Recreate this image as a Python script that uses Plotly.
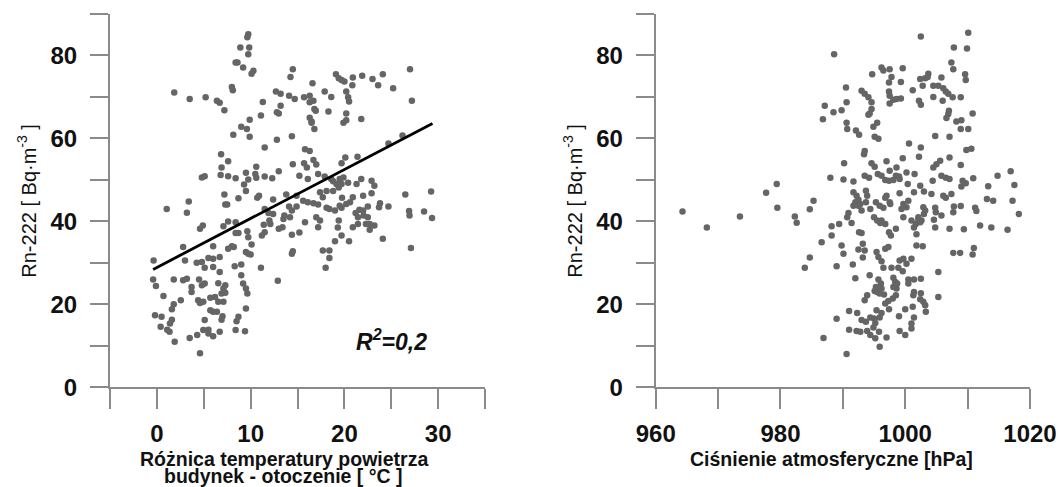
import plotly.graph_objects as go

# ---------------- data ----------------
temp_diff = [8.9, 8.4, 8.6, 9.2, 1.85, 3.5, 5.2, 6.4, 6.7, 7.2, 8.0, 8.1,
    9.75, 9.65, 9.85, 9.75, 10.3, 10.1, 14.5, 14.25, 16.6, 19.1, 19.4, 19.7, 20.0, 20.9, 20.85, 21.9, 23.0, 23.6,
    24.1, 25.2, 27.0, 27.2, 17.9, 18.6, 20.2, 20.4, 20.5, 12.7, 13.2, 14.1, 14.7, 15.7, 16.3, 16.3, 16.7, 16.8,
    16.95, 11.3, 13.2, 12.8, 13.0, 18.3, 20.2, 11.1, 9.9, 16.3, 16.5, 19.9, 20.2, 21.8,
    9.0, 9.6, 9.9, 8.15, 16.5, 16.8, 12.8, 14.4, 11.5, 6.85, 15.8, 16.3, 7.6, 6.9, 10.6, 14.5, 15.7, 16.7, 16.0,
    17.0, 4.8, 5.1, 6.8, 7.6, 8.4, 9.5, 9.75, 10.5, 10.6, 11.5, 12.3, 13.0, 15.2, 16.1, 17.2, 9.3, 9.5, 7.2, 7.3,
    7.5, 8.7, 10.9, 10.7, 12.4, 13.8, 14.9, 14.1, 14.9, 15.6, 16.1, 16.7, 17.2, 1.05, 3.4, 3.2, 11.5, 11.9, 12.4,
    13.6, 14.2, 14.4, 12.0, 12.1, 13.5, 15.8, 17.0, 17.2, 7.6, 8.4, 4.9, 4.6, 7.1, 8.7, 9.65, 9.75, 8.4, 11.4,
    11.5, 11.2, 13.0, 13.4, 14.4, 15.2, 2.8, 6.0, 7.6, 8.0, 8.2, 10.1, 9.5, 9.75, 10.0, -0.35, 3.0, 4.25, 4.8,
    5.5, 6.0, 6.7, 5.1, 6.0, 6.7, 8.3, 9.0, 11.1, 14.4, 14.5, -0.4, -0.1, 1.8, 2.8, 3.2, 4.5, 4.8, 5.1, 3.7, 3.7,
    6.55, 7.3, 7.1, 6.9, 6.2, 5.7, 7.3, 7.1, 6.55, 9.0, 9.2, 9.5, 9.65, 12.9, 0.7, 2.55, 1.8, 1.6, 4.4, 4.6, 4.95,
    5.7, 6.0, 6.4, 7.0, 6.9, 9.5, -0.2, 0.5, 1.6, 1.4, 0.4, 1.1, 1.35, 5.1, 8.7, 8.5, 4.95, 5.5, 5.5, 6.0, 6.7,
    8.4, 9.4, 3.5, 4.3, 1.9, 4.6,
    26.2, 24.7, 20.1, 19.7, 21.4, 17.9, 18.6, 18.8, 19.5, 19.9, 19.15, 19.4, 19.7, 20.4, 21.3, 21.8, 22.9, 23.2,
    17.4, 18.1, 18.8, 17.7, 18.1, 18.4, 19.0, 19.75, 20.6, 20.9, 20.2, 19.7, 19.5, 22.0, 22.9, 23.8, 23.7, 24.7,
    22.5, 22.0, 21.6, 21.2, 21.45, 22.05, 22.5, 22.7, 22.3, 23.2, 22.7, 20.9, 21.45, 19.4, 19.3, 19.7, 19.0, 20.5,
    17.7, 18.4, 18.4, 18.0, 24.1, 26.5, 26.9, 26.95, 28.5, 29.25, 29.35, 27.1, 17.4]
rn_left = [81.9, 78.3, 78.3, 77.1, 71.1, 69.5, 69.9, 69.1, 68.6, 66.8, 72.4, 71.6,
    85.1, 84.4, 81.9, 80.3, 76.3, 75.6, 76.7, 74.8, 73.3, 75.5, 74.5, 74.1, 73.7, 74.7, 72.8, 75.1, 74.3, 72.8,
    75.5, 72.1, 76.7, 69.1, 71.3, 70.0, 71.3, 69.9, 68.9, 71.3, 70.8, 70.3, 69.5, 69.9, 70.3, 68.7, 69.1, 67.1,
    66.7, 68.8, 67.9, 66.3, 66.0, 66.5, 66.0, 65.5, 64.5, 65.0, 64.1, 63.8, 64.4, 64.7,
    62.8, 62.3, 60.4, 60.9, 63.8, 62.3, 59.7, 60.5, 57.8, 56.2, 57.4, 57.0, 54.5, 53.0, 53.2, 53.8, 54.0, 54.8, 53.0,
    53.7, 50.6, 50.9, 51.2, 50.9, 50.4, 51.7, 50.1, 51.4, 50.5, 50.8, 50.4, 52.1, 51.0, 50.2, 51.4, 48.9, 47.3, 46.5, 44.1,
    44.1, 45.6, 46.2, 45.7, 45.3, 46.5, 46.2, 43.6, 43.6, 45.0, 44.6, 44.4, 44.1, 43.0, 44.8, 42.1, 43.0, 42.0, 41.8,
    41.4, 41.0, 42.6, 40.2, 39.4, 40.6, 39.8, 41.0, 38.6, 40.0, 39.8, 39.0, 38.2, 38.8, 37.2, 37.6, 36.2, 37.2, 39.2,
    37.4, 36.6, 38.2, 38.6, 36.8, 37.3, 33.8, 34.0, 33.4, 34.0, 33.8, 34.4, 32.6, 32.2, 32.0, 30.6, 30.6, 30.0, 30.2,
    31.2, 31.0, 31.4, 28.8, 29.0, 27.8, 29.2, 29.6, 28.8, 32.2, 32.8, 26.0, 24.4, 26.0, 25.8, 26.2, 26.0, 24.6, 25.0, 24.2, 23.0,
    25.1, 24.6, 23.8, 22.6, 21.8, 21.6, 22.8, 20.6, 20.6, 27.0, 25.0, 23.8, 22.6, 25.7, 22.0, 21.0, 20.0, 18.8, 21.0, 20.3, 20.6,
    18.6, 18.2, 18.2, 17.1, 16.3, 19.0, 17.4, 17.0, 16.3, 15.4, 14.6, 13.9, 13.4, 16.2, 17.0, 15.9, 13.8, 13.9, 13.0, 12.3, 13.4,
    13.8, 13.5, 11.9, 12.6, 11.0, 8.2,
    60.7, 58.8, 55.4, 54.0, 55.6, 50.8, 50.2, 49.7, 50.2, 50.6, 49.0, 48.2, 49.0, 49.3, 49.0, 50.2, 49.8, 48.6,
    47.0, 47.3, 47.3, 45.8, 43.3, 43.0, 42.6, 45.7, 44.6, 45.8, 44.2, 43.3, 43.8, 46.2, 46.8, 44.4, 43.4, 43.6,
    43.6, 42.6, 42.8, 42.0, 41.0, 41.4, 41.0, 39.4, 39.4, 39.0, 38.0, 38.6, 39.4, 40.2, 38.5, 36.6, 35.2, 35.2,
    33.0, 33.0, 31.2, 28.8, 35.8, 46.5, 42.5, 41.4, 42.4, 47.2, 40.8, 33.6, 40.2]

pressure = [964.3, 968.2, 973.5, 977.7, 979.4, 979.5, 982.3, 982.6, 984.7, 985.3,
    1002.5, 1010.1, 1007.8, 1009.9, 988.6, 1007.4, 1007.7, 996.2, 996.5, 997.5, 999.6, 994.7, 997.4, 997.8, 999.3,
    1002.4, 1003.2, 1003.7, 1003.6, 1002.8, 1005.8, 1009.6, 1009.7, 990.5, 993.0, 993.5, 994.1, 994.6, 997.4, 997.5,
    998.1, 998.6, 999.3, 997.5, 1001.2, 1004.5, 1005.3, 1006.1, 1006.5, 1006.9, 1004.5, 1006.0, 1007.6, 1008.9,
    1002.2, 1002.5, 987.1, 990.6, 988.5, 989.8, 994.6, 994.3, 994.1, 1007.0, 1006.9, 1006.6, 1010.8, 986.8,
    1009.0, 1008.2, 1008.9, 1010.1, 1009.8, 1010.6, 1008.9, 1014.8, 1016.9, 1010.9, 1009.2, 1009.7, 1009.0, 1013.3,
    1017.5, 1013.1, 1014.1, 1017.2, 1011.2, 1011.4, 1008.9, 1018.2, 1012.0, 1013.8, 1016.4, 1009.4,
    1010.8, 1011.0,
    990.6, 990.7, 992.1, 992.6, 994.9, 995.5, 995.1, 995.7, 1004.8, 1007.1, 1000.6, 1002.5, 1002.2, 993.5, 993.4,
    999.6, 1007.1, 1005.6, 1005.0, 1004.5, 990.2, 994.6, 995.1, 997.0, 998.6, 997.5, 998.5, 999.1, 1000.2, 1001.5,
    995.6, 996.2, 996.8, 997.4, 998.1, 999.0, 993.5, 994.2, 988.0, 990.1, 991.7, 1005.8, 1006.5, 1007.1, 1004.4,
    1000.4, 1002.4, 1001.4, 1003.0, 1004.2, 999.1, 1000.5, 999.7, 999.4, 1000.2, 997.0, 996.8, 997.5, 997.6, 995.3,
    995.9, 996.5, 993.7, 993.9, 993.7, 994.4, 993.0, 992.5, 991.7, 992.2, 992.5, 992.0, 991.7, 992.8, 1006.1, 1006.5,
    1007.4, 1007.8, 1007.7, 1004.8, 1004.9, 1005.8, 1004.6, 1004.8, 1002.9, 1003.2, 1003.0, 1002.1, 1002.1, 1001.7,
    1002.4, 1002.6, 999.7, 1001.0, 1007.1, 995.0, 995.5, 996.2, 996.8, 996.0, 998.5, 997.4, 997.7, 1001.4, 1001.8,
    991.4, 992.6, 993.0, 990.7, 990.9, 989.4, 988.2, 988.2, 986.6, 989.8,
    984.7, 983.9, 990.1, 989.0, 991.6, 992.5, 993.2, 993.5, 993.2, 995.4, 995.7, 996.2, 996.8, 997.3, 996.5, 997.8,
    998.9, 999.1, 999.7, 1000.2, 1001.0, 999.6, 1001.8, 1002.8, 1005.3, 1007.7, 1008.8, 992.0, 994.3, 995.7, 996.1,
    995.3, 995.1, 996.2, 995.9, 996.6, 995.5, 998.1, 998.4, 998.7, 998.1, 998.6, 998.5, 998.0, 1000.5, 1001.4,
    1002.5, 1000.5, 1001.4, 1001.3, 1002.5, 1002.4, 1002.9, 1003.2, 1003.3, 1005.3, 993.9, 993.5, 997.3, 996.8,
    997.4, 1000.0, 1001.2, 1001.4, 999.0, 991.0, 992.3, 989.0, 993.0, 993.7, 994.4, 995.0, 995.2, 995.9, 996.2,
    994.9, 995.8, 993.9, 994.4, 995.2, 992.2, 991.0, 992.8, 997.0, 995.9, 999.1, 1000.0, 1001.0, 1001.0, 986.9,
    990.6, 995.4]
rn_right = [42.4, 38.5, 41.2, 46.9, 49.0, 43.3, 41.2, 39.7, 42.9, 45.0,
    84.6, 85.5, 81.9, 81.7, 80.3, 78.3, 76.7, 77.1, 76.4, 76.7, 76.9, 75.5, 73.5, 74.8, 73.6,
    74.3, 74.5, 75.6, 74.8, 72.7, 74.7, 75.5, 74.1, 72.3, 71.5, 70.8, 69.9, 68.7, 71.3, 70.3,
    69.3, 69.5, 69.6, 68.4, 71.6, 72.7, 72.7, 72.1, 71.3, 70.8, 70.0, 69.1, 69.9, 69.9,
    69.1, 68.1, 67.9, 68.7, 66.3, 66.8, 67.1, 66.0, 65.7, 66.7, 65.9, 64.9, 66.0, 64.6,
    64.4, 64.1, 62.3, 62.3, 57.2, 57.5, 53.6, 51.0, 52.1, 50.4, 49.8, 49.2, 48.4, 48.5,
    48.8, 45.4, 45.0, 45.0, 43.3, 42.5, 43.7, 41.8, 39.0, 38.5, 38.0, 38.1,
    32.0, 33.6,
    63.8, 62.3, 61.9, 60.9, 62.8, 63.8, 60.4, 59.9, 60.6, 60.4, 58.8, 57.8, 55.6, 57.0, 56.2,
    55.2, 55.4, 54.6, 53.8, 53.0, 54.0, 54.0, 53.2, 54.5, 53.0, 52.2, 51.0, 50.2, 51.8, 51.4,
    51.4, 51.0, 50.0, 49.8, 50.0, 50.8, 51.0, 50.5, 50.5, 50.1, 49.6, 51.0, 50.5, 50.2, 49.8,
    49.0, 48.6, 47.0, 47.2, 46.6, 46.8, 45.0, 44.2, 43.0, 43.4, 46.2, 45.7, 44.6, 44.2, 44.6,
    43.8, 43.3, 47.4, 46.2, 44.6, 43.0, 42.6, 43.8, 47.0, 46.2, 45.2, 44.6, 43.8, 44.2, 46.2, 45.7,
    46.6, 43.6, 42.2, 43.3, 42.2, 41.4, 40.4, 38.5, 43.4, 42.6, 41.8, 41.0, 40.2, 39.4,
    39.8, 40.2, 41.0, 40.2, 38.2, 41.0, 40.2, 40.2, 39.4, 39.6, 38.2, 37.4, 36.6, 38.5, 36.9,
    39.6, 37.4, 37.2, 41.0, 42.0, 39.4, 38.8, 36.6, 35.0, 34.2,
    31.3, 28.8, 32.2, 29.2, 29.6, 33.2, 34.6, 33.0, 31.3, 32.6, 31.4, 30.4, 33.4, 33.8, 28.8, 28.8,
    28.8, 30.6, 31.0, 29.8, 31.0, 28.0, 34.2, 34.0, 27.8, 32.4, 32.4, 26.3, 27.0, 26.0, 25.0,
    24.2, 23.2, 23.8, 22.6, 22.4, 23.0, 26.4, 25.4, 25.0, 24.2, 23.8, 22.2, 21.4, 26.0, 26.0,
    26.2, 25.0, 23.0, 22.2, 22.7, 21.2, 20.6, 19.8, 18.2, 21.8, 22.2, 21.0, 20.8, 20.2,
    18.8, 18.8, 19.4, 16.8, 17.1, 18.4, 17.9, 16.5, 16.2, 15.8, 16.8, 16.6, 15.5, 16.8, 17.9,
    14.4, 13.4, 13.6, 12.6, 11.8, 13.6, 13.9, 13.4, 12.0, 9.8, 13.6, 12.6, 15.4, 14.2, 11.9,
    8.0, 18.6]

# regression line (R^2 = 0.2)
fit_intercept = 28.9
fit_slope = 1.18
fit_x = [-0.4, 29.4]
fit_y = [fit_intercept + fit_slope * v for v in fit_x]

left_xticks = [0, 10, 20, 30]
left_xminor = [-5, 5, 15, 25, 35]
right_xticks = [960, 980, 1000, 1020]
right_xminor = [970, 990, 1010]
yticks = [0, 20, 40, 60, 80]
yminor = [10, 30, 50, 70, 90]

W, H = 1060, 487
MARKER = dict(color="#656565", size=6.5, symbol="circle", line=dict(width=0))
AX = "#8a8a8a"
TICKFONT = dict(family="Liberation Sans", size=24, color="#111111", weight="bold")

fig = go.Figure()
fig.add_trace(go.Scatter(x=temp_diff, y=rn_left, mode="markers", marker=MARKER,
                         xaxis="x", yaxis="y", showlegend=False))
fig.add_trace(go.Scatter(x=fit_x, y=fit_y, mode="lines", line=dict(color="black", width=2.8),
                         xaxis="x", yaxis="y", showlegend=False))
fig.add_trace(go.Scatter(x=pressure, y=rn_right, mode="markers", marker=MARKER,
                         xaxis="x2", yaxis="y2", showlegend=False))

ydom = [1 - 387.3 / H, 1 - 14 / H]
common_x = dict(showline=True, linecolor=AX, linewidth=2, ticks="outside", ticklen=20,
                tickcolor=AX, tickwidth=2, showgrid=False, zeroline=False, automargin=False,
                tickfont=TICKFONT, tickmode="array", ticklabelstandoff=4)
common_y = dict(showline=True, linecolor=AX, linewidth=2, ticks="outside", ticklen=18,
                tickcolor=AX, tickwidth=2, showgrid=False, zeroline=False, automargin=False,
                tickfont=TICKFONT, tickmode="array", tickvals=yticks,
                minor=dict(tickmode="array", tickvals=yminor, ticks="outside", ticklen=18,
                           tickcolor=AX, tickwidth=2, showgrid=False),
                range=[0, 90], domain=ydom, ticklabelstandoff=8)

fig.update_layout(
    width=W, height=H, margin=dict(l=0, r=0, t=0, b=0, autoexpand=False),
    paper_bgcolor="white", plot_bgcolor="white",
    xaxis=dict(common_x, domain=[110 / W, 485 / W], range=[-5, 35], tickvals=left_xticks,
               minor=dict(tickmode="array", tickvals=left_xminor, ticks="outside", ticklen=20,
                          tickcolor=AX, tickwidth=2, showgrid=False),
               anchor="y"),
    yaxis=dict(common_y, anchor="x"),
    xaxis2=dict(common_x, domain=[655.7 / W, 1030 / W], range=[960, 1020], tickvals=right_xticks,
                minor=dict(tickmode="array", tickvals=right_xminor, ticks="outside", ticklen=20,
                           tickcolor=AX, tickwidth=2, showgrid=False),
                anchor="y2"),
    yaxis2=dict(common_y, anchor="x2"),
)

TITLEFONT = dict(family="Liberation Sans", size=19.5, color="#111111", weight="bold")
YTITLEFONT = dict(family="Liberation Sans", size=20, color="#111111")
ann = [
    dict(text="Różnica temperatury powietrza", x=283.5 / W, y=1 - 459 / H, font=TITLEFONT),
    dict(text="budynek - otoczenie [ °C ]", x=283 / W, y=1 - 476 / H, font=TITLEFONT),
    dict(text="Ciśnienie atmosferyczne [hPa]", x=831 / W, y=1 - 459 / H, font=TITLEFONT),
    dict(text="Rn-222 [ Bq·m<sup>-3</sup> ]", x=27 / W, y=1 - 200.7 / H, font=YTITLEFONT, textangle=-90),
    dict(text="Rn-222 [ Bq·m<sup>-3</sup> ]", x=573 / W, y=1 - 200.7 / H, font=YTITLEFONT, textangle=-90),
]
for a in ann:
    fig.add_annotation(xref="paper", yref="paper", showarrow=False,
                       xanchor="center", yanchor="middle", **a)

fig.add_annotation(xref="x", yref="y", x=21.0, y=11.4, xanchor="left", yanchor="middle",
                   showarrow=False, text="<b><i>R<sup>2</sup>=0,2</i></b>",
                   font=dict(family="Liberation Sans", size=23, color="#111111"))

fig.write_html("out.html", config={"displayModeBar": False},
               post_script="document.body.style.margin='0';document.body.style.overflow='hidden';")
